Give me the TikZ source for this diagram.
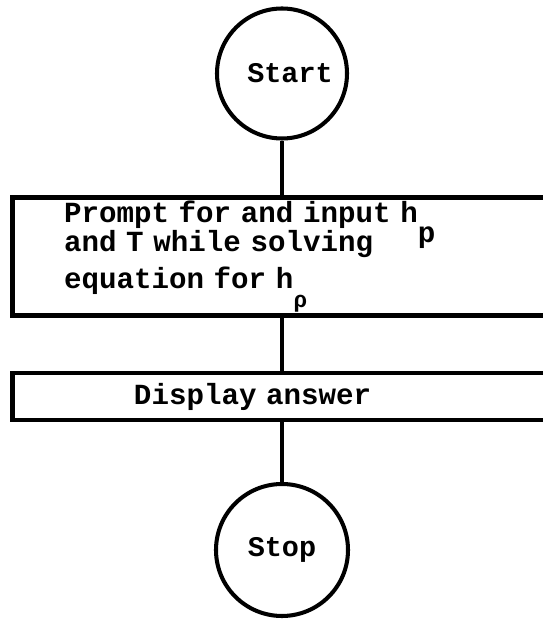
\documentclass[tikz,border=0pt]{standalone}
\usepackage{fontspec}
\setmonofont{Liberation Mono}
\usetikzlibrary{calc}

\begin{document}
\begin{tikzpicture}[
		term/.style={draw, circle, line width=2.3pt, inner sep=0pt, minimum size=2.6cm, font=\ttfamily\bfseries\fontsize{16.2}{13.6}\selectfont},
		procbox/.style={draw, rectangle, line width=2.6pt, inner ysep=0pt, align=left, font=\ttfamily\bfseries\fontsize{16.6}{13.6}\selectfont},
		flow/.style={line width=2.6pt}]
		%%%%% START %%%%%
		\useasboundingbox (0, 0) rectangle (10.86, 12.38);
		
		\node[term] (start) at (5.64, 10.91) {\hspace{0.32cm}Start};
		
		\node[procbox, minimum width=10.95cm, minimum height=2.36cm, inner xsep=1.03cm, text width=8.89cm] (prompt) at (5.725, 7.25)
			{Prompt for and input h\raisebox{-11.5pt}[0pt][0pt]{p}\\and T while solving\\[4.5pt]equation for h\raisebox{-10.5pt}[0pt]{\fontsize{13}{13}\selectfont ρ}};
		
		\node[procbox, minimum width=10.95cm, minimum height=0.94cm, inner xsep=0.5cm, text width=9.95cm] (display) at (5.725, 4.45)
			{\hspace*{1.93cm}Display answer};
		
		\node[term, minimum size=2.64cm] (stop) at (5.64, 1.38) {Stop};
		
		\draw[flow] (start) -- (start |- prompt.north);
		\draw[flow] (prompt.south -| stop) -- (display.north -| stop);
		\draw[flow] (display.south -| stop) -- (stop);
		%%%%% END %%%%%
\end{tikzpicture}
\end{document}
